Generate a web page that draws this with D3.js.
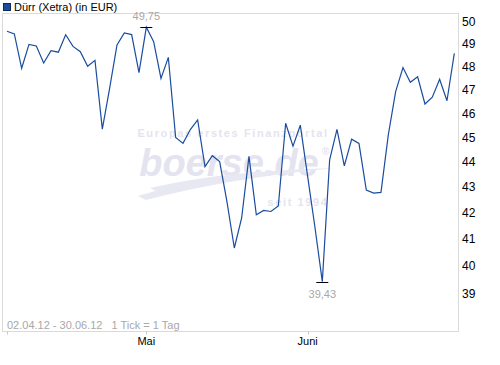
<!DOCTYPE html>
<html lang="de">
  <head>
    <meta charset="utf-8" />
    <title>Dürr (Xetra)</title>
    <script src="https://cdn.jsdelivr.net/npm/d3@7"></script>
    <style>
      body {
        margin: 0;
        background: #fff;
      }
      svg {
        display: block;
        font-family: "Liberation Sans", Arial, sans-serif;
      }
      .frame {
        fill: none;
        stroke: #dadada;
      }
      .ylab {
        font-size: 12px;
        fill: #000;
      }
      .xlab {
        font-size: 11px;
        fill: #000;
      }
      .note {
        font-size: 11px;
        fill: #a8a8a8;
        white-space: pre;
      }
      .wm {
        fill: #e4e4f0;
        font-weight: bold;
      }
    </style>
  </head>

  <body>
    <svg id="chart"></svg>

    <script>
      // trading days 02.04.12 - 29.06.12
      const dates = [
        "2012-04-02", "2012-04-03", "2012-04-04", "2012-04-05", "2012-04-10",
        "2012-04-11", "2012-04-12", "2012-04-13", "2012-04-16", "2012-04-17",
        "2012-04-18", "2012-04-19", "2012-04-20", "2012-04-23", "2012-04-24",
        "2012-04-25", "2012-04-26", "2012-04-27", "2012-04-30", "2012-05-02",
        "2012-05-03", "2012-05-04", "2012-05-07", "2012-05-08", "2012-05-09",
        "2012-05-10", "2012-05-11", "2012-05-14", "2012-05-15", "2012-05-16",
        "2012-05-17", "2012-05-18", "2012-05-21", "2012-05-22", "2012-05-23",
        "2012-05-24", "2012-05-25", "2012-05-28", "2012-05-29", "2012-05-30",
        "2012-05-31", "2012-06-01", "2012-06-04", "2012-06-05", "2012-06-06",
        "2012-06-07", "2012-06-08", "2012-06-11", "2012-06-12", "2012-06-13",
        "2012-06-14", "2012-06-15", "2012-06-18", "2012-06-19", "2012-06-20",
        "2012-06-21", "2012-06-22", "2012-06-25", "2012-06-26", "2012-06-27",
        "2012-06-28", "2012-06-29"
      ];

      const prices = [
        49.57, 49.45, 47.92, 48.98, 48.91, 48.15, 48.70, 48.63, 49.41, 48.89,
        48.65, 48.01, 48.27, 45.33, 47.06, 48.95, 49.49, 49.42, 47.73, 49.75,
        49.10, 47.48, 48.40, 44.98, 44.74, 45.31, 45.71, 43.80, 44.24, 44.00,
        42.41, 40.66, 41.79, 44.21, 41.91, 42.08, 42.04, 42.25, 45.57, 44.63,
        45.49, 43.41, 41.43, 39.43, 44.07, 45.32, 43.83, 44.91, 44.74, 42.87,
        42.75, 42.78, 45.09, 46.91, 47.95, 47.31, 47.55, 46.38, 46.67, 47.44,
        46.52, 48.58
      ];

      const yTicks = [39, 40, 41, 42, 43, 44, 45, 46, 47, 48, 49, 50];
      const monthTicks = [
        { date: "2012-04-02", label: "" },
        { date: "2012-05-02", label: "Mai" },
        { date: "2012-06-01", label: "Juni" }
      ];

      const seriesName = "Dürr (Xetra) (in EUR)";
      const rangeNote = "02.04.12 - 30.06.12   1 Tick = 1 Tag";

      const W = 500;
      const H = 365;
      const frame = { left: 3, top: 13.5, right: 458.5, bottom: 331.5 };

      const svg = d3.select("#chart").attr("width", W).attr("height", H);

      const x = d3.scalePoint().domain(dates).range([7, 454.3]);
      const y = d3.scaleLog().domain([39, 50]).range([293.6, 21.8]);

      // watermark
      const wm = svg.append("g").attr("class", "wm");
      wm.append("text")
        .attr("x", 233)
        .attr("y", 137)
        .attr("text-anchor", "middle")
        .attr("font-size", 11)
        .attr("letter-spacing", 1.6)
        .text("Europas erstes Finanzportal");
      wm.append("text")
        .attr("x", 229)
        .attr("y", 176)
        .attr("text-anchor", "middle")
        .attr("font-size", 38)
        .attr("font-style", "italic")
        .text("boerse.de");
      wm.append("text")
        .attr("x", 322)
        .attr("y", 155)
        .attr("font-size", 10)
        .text("®");
      wm.append("path")
        .attr("d", "M138,196 Q220,170 335,168 Q230,178 146,200 Z")
        .attr("fill", "#e8e8f2");
      wm.append("path")
        .attr("d", "M150,188 Q220,172 300,170 Q230,178 156,191 Z")
        .attr("fill", "#e8e8f2");
      wm.append("text")
        .attr("x", 298)
        .attr("y", 206)
        .attr("text-anchor", "middle")
        .attr("font-size", 11)
        .attr("letter-spacing", 1.6)
        .text("seit 1994");

      // frame
      svg.append("rect")
        .attr("class", "frame")
        .attr("x", frame.left - 0.5)
        .attr("y", frame.top)
        .attr("width", frame.right - frame.left + 0.5)
        .attr("height", frame.bottom - frame.top);

      // y labels on the right
      svg.append("g")
        .selectAll("text")
        .data(yTicks)
        .join("text")
        .attr("class", "ylab")
        .attr("x", 462)
        .attr("y", d => y(d) + 4.5)
        .text(d => d);

      // month ticks
      const mt = svg.append("g");
      mt.selectAll("line")
        .data(monthTicks)
        .join("line")
        .attr("x1", d => Math.round(x(d.date)) + 0.5)
        .attr("x2", d => Math.round(x(d.date)) + 0.5)
        .attr("y1", frame.bottom)
        .attr("y2", frame.bottom + 3)
        .attr("stroke", "#c8c8c8");
      mt.selectAll("text")
        .data(monthTicks)
        .join("text")
        .attr("class", "xlab")
        .attr("x", d => x(d.date))
        .attr("y", 345)
        .attr("text-anchor", "middle")
        .text(d => d.label);

      // price line
      const line = d3
        .line()
        .x((d, i) => x(dates[i]))
        .y(d => y(d));

      svg.append("path")
        .datum(prices)
        .attr("fill", "none")
        .attr("stroke", "#1a4d9e")
        .attr("stroke-width", 1.2)
        .attr("d", line);

      // max / min markers
      const iMax = d3.maxIndex(prices);
      const iMin = d3.minIndex(prices);
      const fmt = v => v.toFixed(2).replace(".", ",");

      [
        { i: iMax, dy: -8 },
        { i: iMin, dy: 15 }
      ].forEach(m => {
        const px = x(dates[m.i]);
        const py = Math.round(y(prices[m.i])) + 0.5;
        svg.append("line")
          .attr("x1", px - 6)
          .attr("x2", px + 6)
          .attr("y1", py)
          .attr("y2", py)
          .attr("stroke", "#000");
        svg.append("text")
          .attr("class", "note")
          .attr("x", px)
          .attr("y", py + m.dy)
          .attr("text-anchor", "middle")
          .attr("font-size", 12)
          .text(fmt(prices[m.i]));
      });

      // legend
      svg.append("rect")
        .attr("x", 3.5)
        .attr("y", 3.5)
        .attr("width", 7)
        .attr("height", 7)
        .attr("fill", "#1a4d9e")
        .attr("stroke", "#0d2a5c");
      svg.append("text")
        .attr("x", 14)
        .attr("y", 11)
        .attr("font-size", 11)
        .attr("fill", "#000")
        .text(seriesName);

      // footer note
      svg.append("text")
        .attr("class", "note")
        .attr("x", 7)
        .attr("y", 329)
        .attr("xml:space", "preserve")
        .text(rangeNote);
    </script>
  </body>
</html>
